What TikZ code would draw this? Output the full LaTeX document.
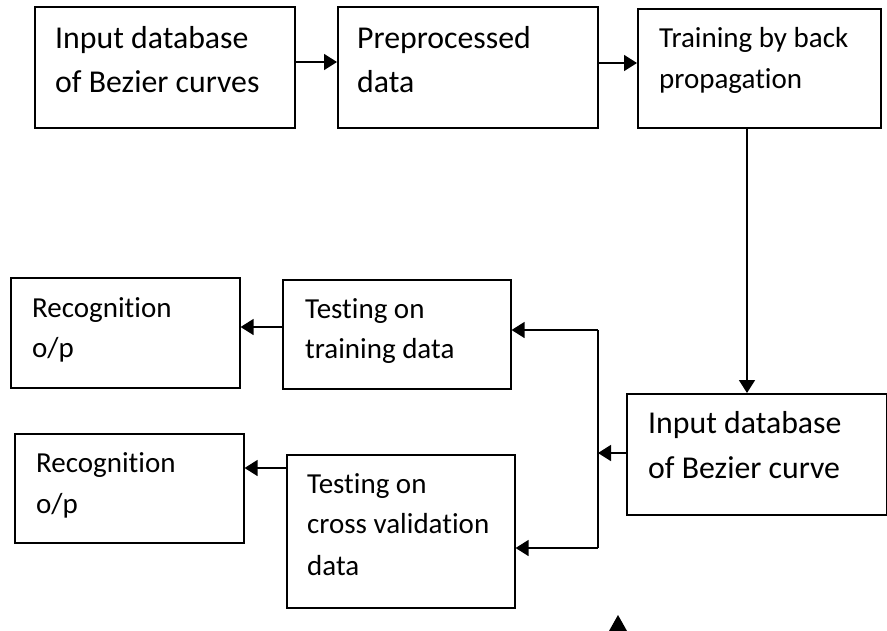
\documentclass[tikz,border=0pt]{standalone}
\usepackage{fontspec}
\setmainfont{Carlito}[Ligatures=NoCommon]
\usetikzlibrary{arrows.meta,calc}
\begin{document}
\begin{tikzpicture}[x=1pt,y=-1pt,
  box/.style={draw=black,line width=1.6pt,rectangle,inner sep=0pt,anchor=north west},
  lbl/.style={anchor=base west,inner sep=0pt,font=\fontsize{31.8}{36}\selectfont},
  lbs/.style={anchor=base west,inner sep=0pt,font=\fontsize{29}{34}\selectfont},
  conn/.style={line width=1.6pt,-{Triangle[length=13pt,width=16pt]}},
  wire/.style={line width=1.6pt}]
\useasboundingbox (0,0) rectangle (887,630);
\fill[white] (0,0) rectangle (887,630);
% boxes
\node[box,minimum width=260pt,minimum height=121pt] (b1) at (34,6) {};
\node[box,minimum width=260pt,minimum height=121pt] (b2) at (337,6) {};
\node[box,minimum width=243pt,minimum height=119pt] (b3) at (637,8) {};
\node[box,minimum width=260pt,minimum height=121pt] (b4) at (626,393) {};
\node[box,minimum width=228pt,minimum height=109pt] (t1) at (282,279) {};
\node[box,minimum width=229pt,minimum height=110pt] (r1) at (10,277) {};
\node[box,minimum width=228pt,minimum height=153pt] (t2) at (286,454) {};
\node[box,minimum width=229pt,minimum height=109pt] (r2) at (14,433) {};
% texts
\node[lbl] (b1a) at (55,48) {Input database};
\node[lbl] (b1b) at (55,92) {of Bezier curves};
\node[lbl] (b2a) at (357,48) {Preprocessed};
\node[lbl] (b2b) at (357,92) {data};
\node[lbs] (b3a) at (659,47) {Training by back};
\node[lbs] (b3b) at (659,88) {propagation};
\node[lbl] (b4a) at (648,433) {Input database};
\node[lbl] (b4b) at (648,478) {of Bezier curve};
\node[lbs] (t1a) at (305,318) {Testing on};
\node[lbs] (t1b) at (305,358) {training data};
\node[lbs] (r1a) at (32,317) {Recognition};
\node[lbs] (r1b) at (32,357) {o/p};
\node[lbs] (r2a) at (36,472) {Recognition};
\node[lbs] (r2b) at (36,513) {o/p};
\node[lbs] (t2a) at (307,493) {Testing on};
\node[lbs] (t2b) at (307,533) {cross validation};
\node[lbs] (t2c) at (307,575) {data};
% junction coordinates
\coordinate (jt) at (598,330);
\coordinate (jm) at (598,453);
\coordinate (jb) at (598,548);
% connectors
\draw[conn] (b1.east |- 0,62) -- (b2.west |- 0,62);
\draw[conn] (b2.east |- 0,63) -- (b3.west |- 0,63);
\draw[conn] (747,127) -- (b4.north -| 747,0);
\draw[conn] (b4.west |- jm) -- (jm);
\draw[wire] (jt) -- (jb);
\draw[conn] (jt) -- (t1.east |- jt);
\draw[conn] (jb) -- (t2.east |- jb);
\draw[conn] (t1.west |- 0,327) -- (r1.east |- 0,327);
\draw[conn] (t2.west |- 0,468) -- (r2.east |- 0,468);
% stray arrowhead
\fill[black] (609,631) -- (618,615) -- (627,631) -- cycle;
\end{tikzpicture}
\end{document}
